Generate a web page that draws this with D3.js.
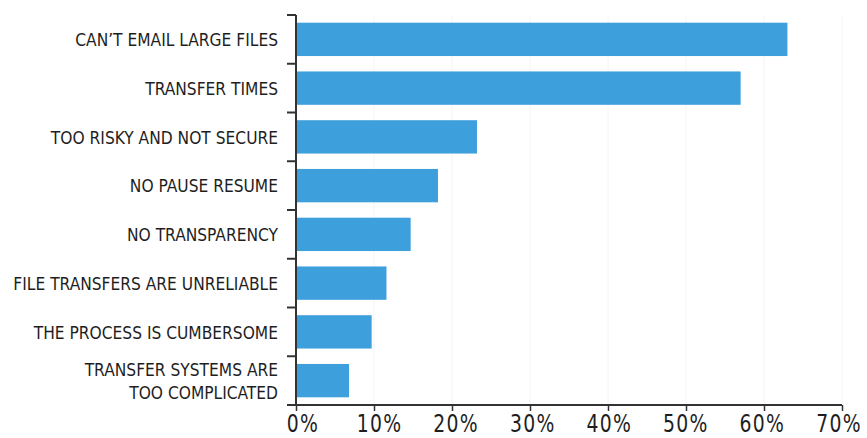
<!DOCTYPE html>
<html>
<head>
<meta charset="utf-8">
<script src="https://cdn.jsdelivr.net/npm/d3@7"></script>
<style>
  html, body { margin: 0; padding: 0; background: #fff; }
  svg { display: block; }
  .lbl { font-family: "Liberation Sans Narrow", "DejaVu Sans Condensed", "Roboto", sans-serif; fill: #1e1e1e; }
</style>
</head>
<body>
<svg id="chart" width="867" height="438"></svg>
<script>
// Data
const categories = [
  ["CAN\u2019T EMAIL LARGE FILES"],
  ["TRANSFER TIMES"],
  ["TOO RISKY AND NOT SECURE"],
  ["NO PAUSE RESUME"],
  ["NO TRANSPARENCY"],
  ["FILE TRANSFERS ARE UNRELIABLE"],
  ["THE PROCESS IS CUMBERSOME"],
  ["TRANSFER SYSTEMS ARE", "TOO COMPLICATED"]
];
const values = [63, 57, 23.2, 18.2, 14.7, 11.6, 9.7, 6.8];
const tickValues = [0, 10, 20, 30, 40, 50, 60, 70];
const tickLabels = ["0%", "10%", "20%", "30%", "40%", "50%", "60%", "70%"];

const svg = d3.select("#chart");
const keys = categories.map((c, i) => i);

const x = d3.scaleLinear().domain([0, 70]).range([296, 842]);
// label placement scale (labels in the reference sit slightly inward of the ticks)
const xLbl = d3.scaleLinear().domain([0, 70]).range([303, 839]);
const y = d3.scaleBand().domain(keys).range([15, 405]).paddingInner(0.316).paddingOuter(0.158);

// faint gridlines
svg.append("g").selectAll("line").data(tickValues.slice(1)).join("line")
  .attr("x1", d => x(d)).attr("x2", d => x(d))
  .attr("y1", 15).attr("y2", 405)
  .attr("stroke", "#f4f4f4").attr("stroke-width", 1);

// bars
svg.append("g").selectAll("rect").data(values).join("rect")
  .attr("x", x(0))
  .attr("y", (d, i) => y(i))
  .attr("width", d => x(d) - x(0))
  .attr("height", y.bandwidth())
  .attr("fill", "#3d9fdc");

// x axis
const xAxis = d3.axisBottom(x).tickValues(tickValues).tickSize(6).tickSizeOuter(0).tickFormat(() => "");
const gx = svg.append("g").attr("transform", "translate(0,405)").call(xAxis);
gx.select(".domain").attr("stroke", "#333").attr("stroke-width", 2).attr("d", `M${x(0) - 9},0H${x(70)}`);
gx.selectAll(".tick line").attr("stroke", "#333").attr("stroke-width", 1.5);

// x tick labels
svg.append("g").selectAll("g").data(tickValues).join("g")
  .attr("transform", d => `translate(${xLbl(d)},431.5) scale(0.87,1)`)
  .append("text").attr("class", "lbl")
  .attr("text-anchor", "middle")
  .style("font-size", "24px")
  .style("letter-spacing", "1.5px")
  .text((d, i) => tickLabels[i]);

// y axis line + boundary ticks
const step = y.step();
const bounds = keys.map(i => y(i) - y.paddingInner() * step / 2);
svg.append("line")
  .attr("x1", x(0)).attr("x2", x(0)).attr("y1", bounds[0]).attr("y2", 405)
  .attr("stroke", "#333").attr("stroke-width", 2);
svg.append("g").selectAll("line").data(bounds).join("line")
  .attr("x1", x(0) - 9).attr("x2", x(0))
  .attr("y1", d => d).attr("y2", d => d)
  .attr("stroke", "#333").attr("stroke-width", 2);

// y labels
const lineH = 23;
const lg = svg.append("g").attr("transform", "translate(278,0) scale(0.93,1)");
categories.forEach((lines, i) => {
  const cy = y(i) + y.bandwidth() / 2;
  const t = lg.append("text").attr("class", "lbl")
    .attr("text-anchor", "end")
    .style("font-size", "18.5px");
  lines.forEach((ln, j) => {
    t.append("tspan")
      .attr("x", 0)
      .attr("y", cy + (j - (lines.length - 1) / 2) * lineH)
      .attr("dy", "0.36em")
      .text(ln);
  });
});
</script>
</body>
</html>
